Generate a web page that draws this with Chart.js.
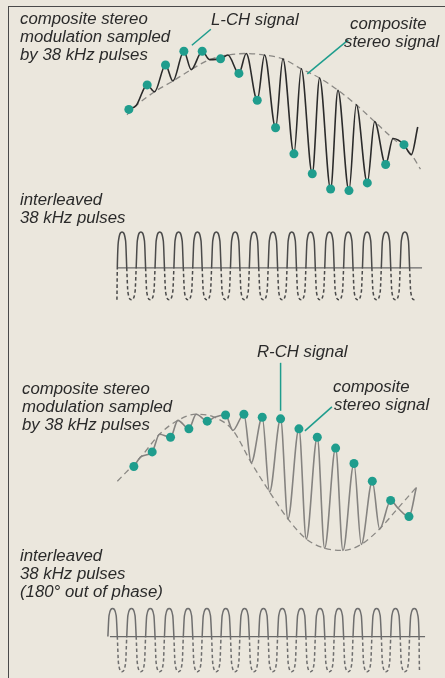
<!DOCTYPE html>
<html>
<head>
<meta charset="utf-8">
<script src="https://cdn.jsdelivr.net/npm/chart.js@4.4.1/dist/chart.umd.min.js"></script>
<style>
  html, body { margin: 0; padding: 0; }
  body {
    width: 445px; height: 678px; position: relative; overflow: hidden;
    background: #ebe7dd;
    font-family: "Liberation Sans", Arial, Helvetica, sans-serif;
  }
  .frame {
    position: absolute; left: 8px; top: 6px; right: -4px; bottom: -4px;
    border-left: 1px solid #4a4a4a; border-top: 1px solid #4a4a4a;
  }
  .plot { position: absolute; }
  .lbl {
    position: absolute; z-index: 2; white-space: nowrap;
    font-style: italic; font-size: 16.8px; line-height: 18px; color: #2a2a2a;
  }
</style>
</head>
<body>
<div class="frame"></div>

<div class="lbl" style="left:20px;top:10px">composite stereo<br>modulation sampled<br>by 38 kHz pulses</div>
<div class="lbl" style="left:211px;top:11px">L-CH signal</div>
<div class="lbl" style="left:350px;top:15px">composite</div>
<div class="lbl" style="left:344px;top:33px">stereo signal</div>
<div class="lbl" style="left:20px;top:191px">interleaved<br>38 kHz pulses</div>

<div class="lbl" style="left:257px;top:343px">R-CH signal</div>
<div class="lbl" style="left:22px;top:380px">composite stereo<br>modulation sampled<br>by 38 kHz pulses</div>
<div class="lbl" style="left:333px;top:378px">composite</div>
<div class="lbl" style="left:334px;top:396px">stereo signal</div>
<div class="lbl" style="left:20px;top:547px">interleaved<br>38 kHz pulses<br>(180° out of phase)</div>

<canvas id="compTop" class="plot" width="330" height="210" style="left:106px;top:0px"></canvas>
<canvas id="pulseTop" class="plot" width="330" height="90" style="left:106px;top:220px"></canvas>
<canvas id="compBot" class="plot" width="330" height="240" style="left:111px;top:330px"></canvas>
<canvas id="pulseBot" class="plot" width="330" height="88" style="left:106px;top:590px"></canvas>

<script>
// ── Data (time in 38 kHz pulse periods, amplitude in arbitrary units) ─────────
const sampleIdx = [0, 1, 2, 3, 4, 5, 6, 7, 8, 9, 10, 11, 12, 13, 14, 15];
const gapPhase = 0.4;            // where the other channel is picked up between pulses

// upper figure: dashed L-CH envelope, dots = sampled values
const lchTop = [0.18, 0.36, 0.5, 0.65, 0.78, 0.84, 0.86, 0.84, 0.79, 0.66, 0.54, 0.38, 0.19, -0.03, -0.25, -0.46];
const rchTop = [0.13, 0.45, 0.71, 0.89, 0.89, 0.79, 0.6, 0.25, -0.11, -0.45, -0.71, -0.91, -0.93, -0.83, -0.59, -0.33];
const lchTopStart = { t: -0.1, v: 0.06 };
const lchTopEnd = { t: 15.9, v: -0.65 };
const compTopEnd = { t: 15.75, v: -0.1 };

// lower figure: dashed R-CH envelope, dots = sampled values
const lchBot = [0.16, 0.35, 0.54, 0.65, 0.75, 0.83, 0.84, 0.8, 0.78, 0.65, 0.54, 0.4, 0.2, -0.03, -0.28, -0.49];
const rchBot = [0.29, 0.58, 0.76, 0.84, 0.8, 0.63, 0.21, -0.17, -0.52, -0.78, -0.9, -0.93, -0.85, -0.65, -0.38, -0.11];
const rchBotStart = { t: -0.9, v: -0.03 };

// pulse trains
const pulseTopCentres = sampleIdx.map((n) => n - 0.15);
const pulseBotCentres = [-1, ...sampleIdx].map((n) => n + 0.35);
const pulseTopHigh = 1.06, pulseTopLow = 0.94;
const pulseBotHigh = 0.93, pulseBotLow = 1.17;
const axisTop = [-0.42, 15.76];
const axisBot = [-0.79, 15.92];

// ── Colours ───────────────────────────────────────────────────────────────────
const TEAL = "#1f9d8d";
const INK = "#2b2b2b";
const GREY = "#858380";
const DASH = "#8a8884";

// ── Helpers ───────────────────────────────────────────────────────────────────
function interleave(dots, gaps, extra) {
    const pts = [];
    dots.forEach((v, n) => {
        pts.push({ x: n, y: v });
        pts.push({ x: n + gapPhase, y: gaps[n] });
    });
    if (extra) pts.push({ x: extra.t, y: extra.v });
    return pts;
}

function pulseTrain(centres, high, low, startLow, endMode) {
    const pts = [];
    if (startLow) pts.push({ x: centres[0] - 0.27, y: -low });
    centres.forEach((c, i) => {
        const last = i === centres.length - 1;
        pts.push(
            { x: c - 0.25, y: 0 },
            { x: c - 0.19, y: 0.75 * high },
            { x: c, y: high },
            { x: c + 0.19, y: 0.75 * high },
            { x: c + 0.25, y: 0 }
        );
        if (!last) {
            pts.push({ x: c + 0.31, y: -0.75 * low }, { x: c + 0.5, y: -low }, { x: c + 0.69, y: -0.75 * low });
        } else if (endMode === "u") {
            pts.push({ x: c + 0.31, y: -0.75 * low }, { x: c + 0.5, y: -low }, { x: c + 0.56, y: -low });
        } else {
            pts.push({ x: c + 0.27, y: -0.9 * low }, { x: c + 0.29, y: -low });
        }
    });
    return pts;
}

const leaderPlugin = {
    id: "leaders",
    afterDatasetsDraw(chart, args, opts) {
        const { ctx, scales: { x, y } } = chart;
        ctx.save();
        ctx.strokeStyle = TEAL;
        ctx.lineWidth = 1.5;
        (opts.items || []).forEach((l) => {
            const px = x.getPixelForValue(l.at[0]);
            const py = y.getPixelForValue(l.at[1]);
            ctx.beginPath();
            ctx.moveTo(px + l.from[0], py + l.from[1]);
            ctx.lineTo(px + l.to[0], py + l.to[1]);
            ctx.stroke();
        });
        ctx.restore();
    },
};

function baseOptions(ymin, ymax, leaders) {
    return {
        responsive: false,
        animation: false,
        events: [],
        layout: { padding: 0 },
        plugins: {
            legend: { display: false },
            tooltip: { enabled: false },
            leaders: { items: leaders || [] },
        },
        scales: {
            x: { type: "linear", min: -1, max: 16.5, display: false },
            y: { type: "linear", min: ymin, max: ymax, display: false },
        },
    };
}

function dotSet(values) {
    return {
        data: values.map((v, n) => ({ x: n, y: v })),
        showLine: false,
        pointRadius: 4.5,
        pointBackgroundColor: TEAL,
        pointBorderWidth: 0,
        clip: false,
    };
}

function lineSet(points, color, width, dash) {
    return {
        data: points,
        showLine: true,
        pointRadius: 0,
        borderColor: color,
        borderWidth: width,
        borderDash: dash || [],
        cubicInterpolationMode: "monotone",
        clip: false,
    };
}

// ── Upper composite ───────────────────────────────────────────────────────────
const lchTopCurve = [
    { x: lchTopStart.t, y: lchTopStart.v },
    ...lchTop.map((v, n) => ({ x: n + gapPhase, y: v })),
    { x: lchTopEnd.t, y: lchTopEnd.v },
];

new Chart(document.getElementById("compTop"), {
    type: "scatter",
    data: {
        datasets: [
            dotSet(rchTop),
            lineSet(interleave(rchTop, lchTop, compTopEnd), INK, 1.6),
            lineSet(lchTopCurve, DASH, 1.3, [6, 4]),
        ],
    },
    options: baseOptions(-1.125, 1.5, [
        { at: [3, rchTop[3]], from: [8, -6], to: [27, -22] },
        { at: [9 + gapPhase, lchTop[9]], from: [6, 5], to: [47, -29] },
    ]),
    plugins: [leaderPlugin],
});

// ── Upper pulse train ─────────────────────────────────────────────────────────
function pulseSet(points, color) {
    return {
        data: points,
        showLine: true,
        pointRadius: 0,
        borderColor: color,
        borderWidth: 1.5,
        cubicInterpolationMode: "monotone",
        clip: false,
        segment: {
            borderDash: (ctx) => (ctx.p0.parsed.y < 0 || ctx.p1.parsed.y < 0 ? [3.5, 2.5] : undefined),
        },
    };
}

new Chart(document.getElementById("pulseTop"), {
    type: "scatter",
    data: {
        datasets: [
            pulseSet(pulseTrain(pulseTopCentres, pulseTopHigh, pulseTopLow, true, "u"), "#4a4a4a"),
            lineSet(axisTop.map((t) => ({ x: t, y: 0 })), "#6a6a6a", 1.2),
        ],
    },
    options: baseOptions(-1.24, 1.41),
});

// ── Lower composite ───────────────────────────────────────────────────────────
const rchBotCurve = [
    { x: rchBotStart.t, y: rchBotStart.v },
    ...rchBot.map((v, n) => ({ x: n + gapPhase, y: v })),
];

new Chart(document.getElementById("compBot"), {
    type: "scatter",
    data: {
        datasets: [
            dotSet(lchBot),
            lineSet(interleave(lchBot, rchBot), GREY, 1.6),
            lineSet(rchBotCurve, DASH, 1.3, [6, 4]),
        ],
    },
    options: baseOptions(-1.125, 1.875, [
        { at: [8, lchBot[8]], from: [0, -8], to: [0, -56] },
        { at: [9, lchBot[9]], from: [6, 2], to: [33, -22] },
    ]),
    plugins: [leaderPlugin],
});

// ── Lower pulse train ─────────────────────────────────────────────────────────
new Chart(document.getElementById("pulseBot"), {
    type: "scatter",
    data: {
        datasets: [
            pulseSet(pulseTrain(pulseBotCentres, pulseBotHigh, pulseBotLow, false, "leg"), "#6e6e6e"),
            lineSet(axisBot.map((t) => ({ x: t, y: 0 })), "#6a6a6a", 1.2),
        ],
    },
    options: baseOptions(-1.38, 1.55),
});
</script>
</body>
</html>
